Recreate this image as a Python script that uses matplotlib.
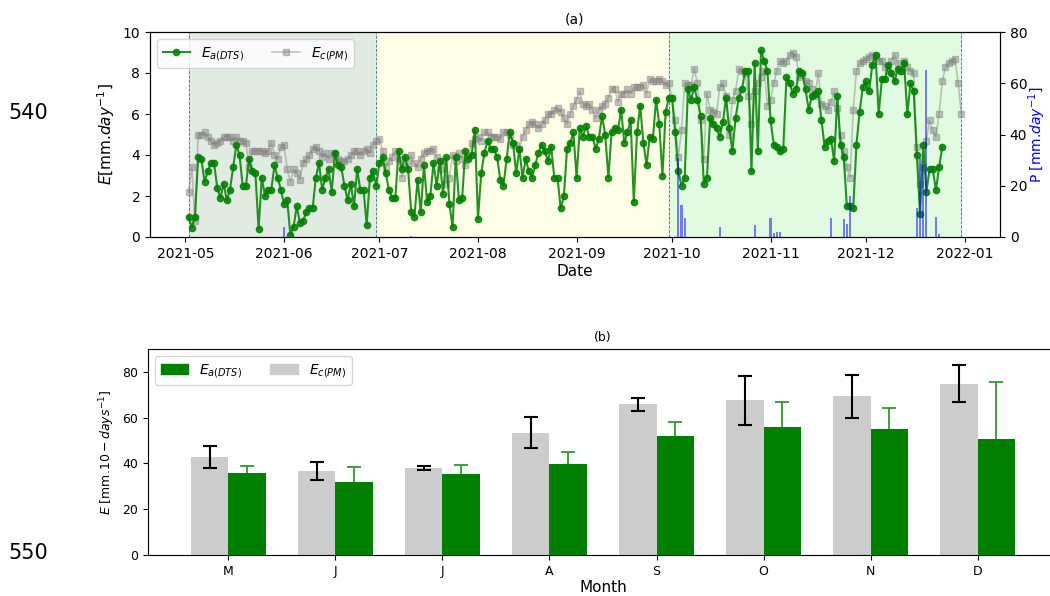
import matplotlib
matplotlib.use("Agg")
import matplotlib.pyplot as plt
import pandas as pd
from matplotlib.patches import Patch

# daily evaporation (mm/day), from 2021-05-02
ea_start = "2021-05-02"
ea_daily = [
    1.0, 0.46, 1.0, 3.9, 3.8, 2.7, 3.2, 3.6, 3.6, 2.4, 1.9, 2.6, 1.8, 2.3, 3.4, 4.5, 4.0, 2.5, 2.5, 3.8,
    3.2, 3.1, 0.4, 2.9, 2.0, 2.3, 2.3, 3.5, 2.9, 2.3, 1.6, 1.8, 0.1, 0.5, 1.5, 0.7, 0.8, 1.2, 1.4, 1.4,
    2.9, 3.6, 2.3, 2.9, 3.3, 2.2, 4.1, 3.5, 3.4,
    2.5, 1.8, 2.6, 1.5, 3.3, 2.3, 2.3, 0.6, 2.9, 3.2, 2.5, 3.6, 3.9, 3.1, 2.3, 1.9, 1.9, 4.2, 3.3, 3.9,
    3.3, 1.2, 1.0, 2.8, 1.2, 3.5, 1.7, 2.0, 3.6, 2.5, 3.7, 2.1, 3.9, 1.6, 0.5, 3.9, 1.8, 1.9, 4.2, 3.8,
    4.0, 5.2, 0.9, 3.1, 4.1, 4.7, 4.3, 4.3, 3.9, 2.8,
    2.5, 3.8, 5.1, 4.6, 3.1, 4.3, 2.9, 3.8, 3.2, 2.9, 3.5, 4.1, 4.5, 4.2, 3.7, 4.4, 2.9, 2.9, 1.4, 2.0,
    4.3, 4.6, 5.1, 2.9, 5.3, 4.9, 5.4, 4.9, 4.9, 4.3, 4.8, 5.9, 5.0, 2.9, 5.1, 5.3, 5.2, 6.2, 4.6, 5.1,
    5.7, 1.7, 5.1, 6.4, 4.6, 3.5, 4.9, 4.8, 6.7, 5.5,
    3.0, 6.1, 6.8, 6.8, 5.1, 3.2, 2.5, 2.9, 7.2, 6.7, 7.3, 6.7, 5.9, 2.6, 2.9, 5.8, 5.5, 5.3, 4.9, 5.6,
    6.8, 5.3, 4.2, 5.8, 6.8, 7.2, 8.1, 8.1, 3.2, 8.5, 4.2, 9.1, 8.6, 8.1, 5.7, 4.5, 4.4, 4.2, 4.3, 7.8,
    7.5, 7.0, 7.2, 8.1, 8.0, 7.2, 6.2, 6.9, 7.0, 7.1,
    5.7, 4.4, 4.7, 4.8, 3.7, 6.9, 4.5, 3.9, 1.5, 1.5, 1.4, 4.5, 6.1, 7.3, 7.6, 7.1, 8.4, 8.9, 6.0, 7.7,
    7.7, 8.4, 8.0, 7.6, 8.2, 8.1, 8.5, 6.0, 7.5, 7.1, 4.0, 1.1, 4.5, 2.2, 3.3, 3.3, 2.3, 3.4, 4.4,
]
ec_start = "2021-05-02"
ec_daily = [
    2.2, 3.4, 0.8, 5.0, 5.0, 5.1, 4.9, 4.7, 4.5, 4.6, 4.7, 4.9, 4.9, 4.9, 4.7, 4.9, 4.7, 4.7, 4.6, 3.4,
    4.2, 4.2, 4.2, 4.2, 4.1, 4.2, 4.6, 4.0, 3.8, 4.4, 4.5, 3.3, 2.7, 3.3, 3.1, 2.8, 3.6, 3.8, 4.0, 4.3,
    4.4, 4.2, 3.9, 4.1, 3.8, 4.1, 4.0, 3.8, 3.7,
    3.7, 3.8, 4.0, 4.2, 4.2, 4.0, 4.2, 4.3, 4.1, 4.5, 4.7, 4.8, 4.2, 3.4, 3.7, 3.9, 4.2, 3.8, 2.9, 3.4,
    3.7, 4.0, 3.6, 3.4, 3.8, 4.1, 4.2, 4.2, 4.3, 3.9, 3.3, 3.7, 2.6, 2.9, 4.0, 3.7, 4.1, 3.8, 3.5, 3.9,
    4.6, 4.8, 4.9, 4.7, 5.1, 5.1, 4.9, 4.9, 4.9, 4.8,
    5.1, 5.1, 5.0, 4.5, 4.5, 4.3, 4.9, 5.2, 5.5, 5.6, 5.5, 5.3, 5.5, 5.7, 6.0, 6.0, 6.2, 6.3, 6.1, 5.8,
    5.5, 6.0, 6.4, 6.7, 7.1, 6.5, 6.4, 6.5, 6.2, 5.8, 6.2, 6.4, 6.5, 6.8, 7.2, 7.2, 6.6, 7.0, 7.0, 7.2,
    7.0, 7.3, 7.3, 7.3, 7.4, 7.0, 7.7, 7.6, 7.6,
    7.7, 7.6, 7.4, 7.5, 6.8, 5.7, 3.9, 5.2, 7.5, 7.4, 7.4, 8.2, 7.5, 5.7, 3.8, 7.0, 6.2, 6.1, 6.0, 7.3,
    7.5, 6.9, 5.0, 6.7, 7.1, 8.2, 8.1, 8.0, 6.9, 5.5, 7.1, 7.5, 7.8, 8.1, 6.4, 6.7, 7.5, 8.1, 8.6, 8.5,
    8.6, 8.9, 9.0, 8.8, 7.8, 7.9, 7.6, 7.5, 7.2, 6.9,
    8.0, 6.5, 6.4, 6.2, 6.6, 7.1, 6.3, 5.0, 4.2, 3.4, 2.9, 6.2, 8.1, 8.5, 8.6, 8.7, 8.8, 8.9, 8.8, 8.6,
    8.6, 8.3, 8.1, 8.6, 8.9, 8.5, 8.1, 8.6, 8.3, 8.1, 8.0, 4.4, 2.6, 3.4, 4.7, 5.7, 5.2, 4.9, 6.0, 7.6,
    8.3, 8.5, 8.6, 8.7, 7.5, 6.0,
]

# precipitation (mm/day)
p_dates = ["2021-06-01", "2021-07-11", "2021-10-03", "2021-10-04", "2021-10-05", "2021-10-16",
           "2021-10-27", "2021-11-01", "2021-11-02", "2021-11-03", "2021-11-04", "2021-11-20",
           "2021-11-24", "2021-11-25", "2021-11-26", "2021-12-17", "2021-12-18", "2021-12-19",
           "2021-12-20", "2021-12-23", "2021-12-24"]
p_vals = [4.0, 0.5, 31.0, 12.5, 7.4, 4.0, 4.7, 7.4, 1.5, 2.0, 2.0, 7.4,
          7.0, 5.0, 16.0, 11.4, 31.0, 28.0, 65.0, 7.8, 1.3]

# period boundaries
periods = [("2021-05-02", "2021-06-30"), ("2021-06-30", "2021-09-30"), ("2021-09-30", "2021-12-31")]
period_colors = ["#e2ebe2", "#fefde6", "#e1fbe1"]

# 10-day sums per month
months = ["M", "J", "J", "A", "S", "O", "N", "D"]
ec_10d = [42.8, 36.6, 38.0, 53.5, 65.9, 67.6, 69.3, 74.9]
ec_10d_err = [4.9, 4.0, 0.7, 6.7, 2.9, 10.6, 9.3, 8.2]
ea_10d = [35.7, 31.8, 35.4, 39.8, 51.9, 56.1, 54.9, 50.6]
ea_10d_err = [3.2, 6.5, 3.8, 5.4, 6.4, 10.9, 9.4, 25.2]

ea_dates = pd.date_range(ea_start, periods=len(ea_daily), freq="D")
ec_dates = pd.date_range(ec_start, periods=len(ec_daily), freq="D")

fig = plt.figure(figsize=(10.5, 5.96), dpi=100)

# --- (a) daily series
ax1 = fig.add_axes([150 / 1050, 1 - 237 / 596, 850 / 1050, 205 / 596])
for (a, b), c in zip(periods, period_colors):
    ax1.axvspan(pd.Timestamp(a), pd.Timestamp(b), color=c, zorder=0)
for a in [periods[0][0], periods[1][0], periods[2][0], periods[2][1]]:
    ax1.axvline(pd.Timestamp(a), color="#2a7a7a", linestyle="--", linewidth=0.6, zorder=1)

l_ec, = ax1.plot(ec_dates, ec_daily, color="gray", marker="s", markersize=4.5,
                 linewidth=1.2, alpha=0.45, label="$E_{c(PM)}$", zorder=2)
l_ea, = ax1.plot(ea_dates, ea_daily, color="green", marker="o", markersize=4.5,
                 linewidth=1.5, alpha=0.85, label="$E_{a(DTS)}$", zorder=3)
ax1.set_ylim(0, 10)
ax1.set_ylabel("$E$[mm.$day^{-1}$]", fontsize=11)
ax1.set_xlabel("Date", fontsize=11, labelpad=2)
ax1.set_title("(a)", fontsize=10)
ax1.tick_params(labelsize=10)
ax1.legend(handles=[l_ea, l_ec], loc="upper left", ncol=2, fontsize=10, framealpha=0.8)

ax2 = ax1.twinx()
ax2.bar(pd.to_datetime(p_dates), p_vals, width=0.7, color="blue", alpha=0.5)
ax2.set_ylim(0, 80)
ax2.set_ylabel("P [mm.$day^{-1}$]", color="blue", fontsize=10)
ax2.yaxis.set_label_coords(1.031, 0.5)
ax2.tick_params(labelsize=10)

# --- (b) 10-day totals
ax3 = fig.add_axes([148 / 1050, 1 - 555 / 596, 910 / 1050, 206 / 596])
x = list(range(len(months)))
w = 0.35
ax3.bar([i - w / 2 for i in x], ec_10d, width=w, color="#cccccc", zorder=2)
ax3.errorbar([i - w / 2 for i in x], ec_10d, yerr=ec_10d_err, fmt="none", ecolor="black",
             capsize=5, elinewidth=1.5, capthick=1.5, zorder=4)
ax3.errorbar([i + w / 2 for i in x], ea_10d, yerr=ea_10d_err, fmt="none", ecolor="#2e9a2e",
             capsize=5, elinewidth=1.3, capthick=1.3, zorder=1)
ax3.bar([i + w / 2 for i in x], ea_10d, width=w, color="green", zorder=3)
ax3.set_xticks(x)
ax3.set_xticklabels(months)
ax3.set_xlim(-0.75, 7.75)
ax3.set_ylim(0, 90)
ax3.set_yticks([0, 20, 40, 60, 80])
ax3.tick_params(labelsize=9)
ax3.set_ylabel("$E$ [mm.$10-days^{-1}$]", fontsize=9)
ax3.set_xlabel("Month", fontsize=11, labelpad=2)
ax3.set_title("(b)", fontsize=9)
ax3.legend(handles=[Patch(color="green", label="$E_{a(DTS)}$"),
                    Patch(color="#cccccc", label="$E_{c(PM)}$")],
           loc="upper left", ncol=2, fontsize=10)

fig.text(28 / 1050, 1 - 113 / 596, "540", fontsize=15, ha="center", va="center")
fig.text(28 / 1050, 1 - 553 / 596, "550", fontsize=15, ha="center", va="center")

fig.savefig("out.png", dpi=100)
